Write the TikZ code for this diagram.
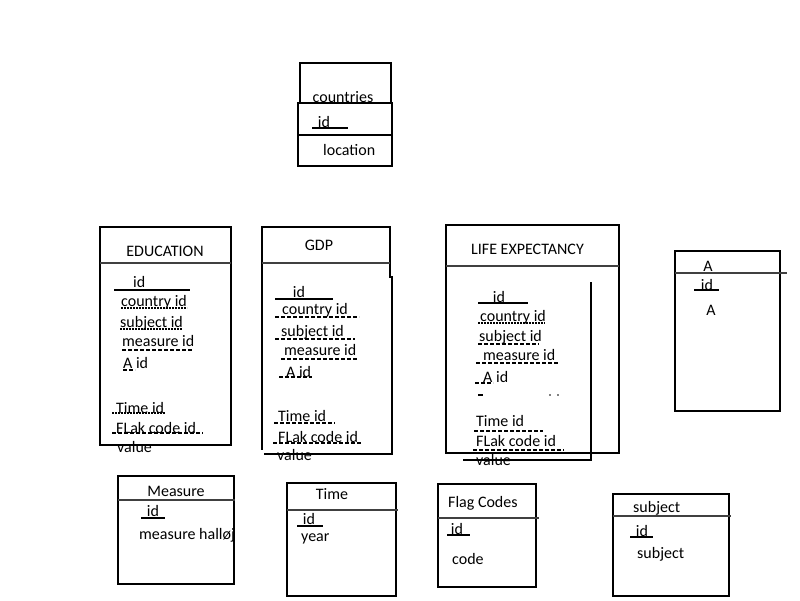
\documentclass[tikz,border=0pt]{standalone}
\usepackage{fontspec}
\setmainfont{Carlito}
\begin{document}
\begin{tikzpicture}[x=1pt,y=-1pt,
  lbl/.style={font=\fontsize{16}{19}\selectfont, inner sep=0pt, anchor=west},
  clbl/.style={font=\fontsize{16}{19}\selectfont, inner sep=0pt, anchor=center},
  boxline/.style={line width=2pt, line cap=rect},
  hdr/.style={line width=2pt, draw=black!75},
  ul/.style={line width=1.2pt},
  dul/.style={ul, dash pattern=on 4pt off 2pt},
  dotul/.style={ul, dash pattern=on 2pt off 1pt}]
\useasboundingbox (0,0) rectangle (800,600);

% ---------- countries ----------
\draw[boxline] (300,63) rectangle (391,103);
\draw[line width=2.8pt] (298,103) rectangle (392,135);
\draw[boxline] (298,135) rectangle (392,166);
\node[clbl] (cT) at (343,97) {countries};
\node[clbl] (cId) at (324,122) {id};
\draw[ul] (312,128) -- (348,128);
\node[lbl] (cLoc) at (323,150) {location};

% ---------- EDUCATION ----------
\draw[boxline] (100,227) rectangle (231,445);
\draw[hdr] (100,263) -- (231,263);
\node[clbl] (eT) at (165,251) {EDUCATION};
\node[lbl] (e1) at (133,282) {id};
\draw[ul] (114,290) -- (190,290);
\node[lbl] (e2) at (121,302) {country id};
\draw[dotul] (121,308) -- (187,308);
\node[lbl] (e3) at (120,323) {subject id};
\draw[dotul] (120,329) -- (182,329);
\node[lbl] (e4) at (122,341) {measure id};
\draw[dul] (122,350) -- (193,350);
\node[lbl] (e5) at (123,363) {A id};
\draw[dul] (123,370) -- (135,370);
\node[lbl] (e6) at (116,408) {Time id};
\draw[dotul] (112,413) -- (165,413);
\node[lbl] (e7) at (116,428) {FLak code id};
\draw[dul] (112,433) -- (203,433);
\node[lbl] (e8) at (117,447) {value};

% ---------- GDP ----------
\draw[boxline] (262,449) -- (262,227) -- (390,227) -- (390,277);
\draw[boxline] (392,277) -- (392,454) -- (265,454);
\draw[hdr] (262,263) -- (390,263);
\node[clbl] (gT) at (319,245) {GDP};
\node[clbl] (g1) at (299,292) {id};
\draw[ul] (275,299) -- (333,299);
\node[lbl] (g2) at (282,310) {country id};
\draw[dul] (275,317) -- (359,317);
\node[lbl] (g3) at (281,332) {subject id};
\draw[dul] (275,339) -- (355,339);
\node[lbl] (g4) at (284,350) {measure id};
\draw[dul] (281,359) -- (358,359);
\node[lbl] (g5) at (286,372) {A id};
\draw[dul] (279,377) -- (312,377);
\node[lbl] (g6) at (278,416) {Time id};
\draw[dul] (274,423) -- (335,423);
\node[lbl] (g7) at (278,437) {FLak code id};
\draw[dul] (273,443) -- (362,443);
\node[lbl] (g8) at (277,455) {value};

% ---------- LIFE EXPECTANCY ----------
\draw[boxline] (446,225) rectangle (619,453);
\draw[hdr] (446,266) -- (619,266);
\draw[boxline] (591,283) -- (591,460) -- (464,460);
\node[lbl] (lT) at (471,249) {LIFE EXPECTANCY};
\node[clbl] (l1) at (499,297) {id};
\draw[ul] (478,303) -- (528,303);
\node[lbl] (l2) at (480,317) {country id};
\draw[dotul] (478,323) -- (545,323);
\node[lbl] (l3) at (479,337) {subject id};
\draw[dul] (478,344) -- (539,344);
\node[lbl] (l4) at (483,355) {measure id};
\draw[dul] (476,363) -- (559,363);
\node[lbl] (l5) at (483,377) {A id};
\draw[dul] (475,383) -- (493,383);
\draw[ul] (478,395) -- (483,395);
\fill (550,395) circle (0.8);
\fill (558,395) circle (0.8);
\node[lbl] (l6) at (476,421) {Time id};
\draw[dul] (474,431) -- (543,431);
\node[lbl] (l7) at (476,441) {FLak code id};
\draw[dul] (473,450) -- (564,450);
\node[lbl] (l8) at (476,460) {value};

% ---------- A ----------
\draw[boxline] (675,251) rectangle (780,411);
\draw[hdr] (675,273) -- (787,273);
\node[clbl] (aT) at (708,266) {A};
\node[clbl] (a1) at (707,285) {id};
\draw[ul] (694,290) -- (719,290);
\node[clbl] (a2) at (711,310) {A};

% ---------- Measure ----------
\draw[boxline] (118,476) rectangle (234,584);
\draw[hdr] (118,500) -- (235,500);
\node[clbl] (mT) at (176,491) {Measure};
\node[clbl] (m1) at (153,511) {id};
\draw[ul] (141,518) -- (165,518);
\node[lbl] (m2) at (139,535) {measure halløj};

% ---------- Time ----------
\draw[boxline] (287,483) rectangle (396,596);
\draw[hdr] (287,510) -- (398,510);
\node[clbl] (tT) at (332,494) {Time};
\node[clbl] (t1) at (309,519) {id};
\draw[ul] (297,526) -- (323,526);
\node[lbl] (t2) at (301,539) {year};

% ---------- Flag Codes ----------
\draw[boxline] (438,484) rectangle (536,587);
\draw[hdr] (438,518) -- (539,518);
\node[lbl] (fT) at (448,503) {Flag Codes};
\node[clbl] (f1) at (457,529) {id};
\draw[ul] (447,535) -- (470,535);
\node[lbl] (f2) at (452,559) {code};

% ---------- subject ----------
\draw[boxline] (613,494) rectangle (729,596);
\draw[hdr] (613,516) -- (731,516);
\node[lbl] (sT) at (633,508) {subject};
\node[clbl] (s1) at (642,531) {id};
\draw[ul] (630,537) -- (653,537);
\node[lbl] (s2) at (637,554) {subject};
\end{tikzpicture}
\end{document}
